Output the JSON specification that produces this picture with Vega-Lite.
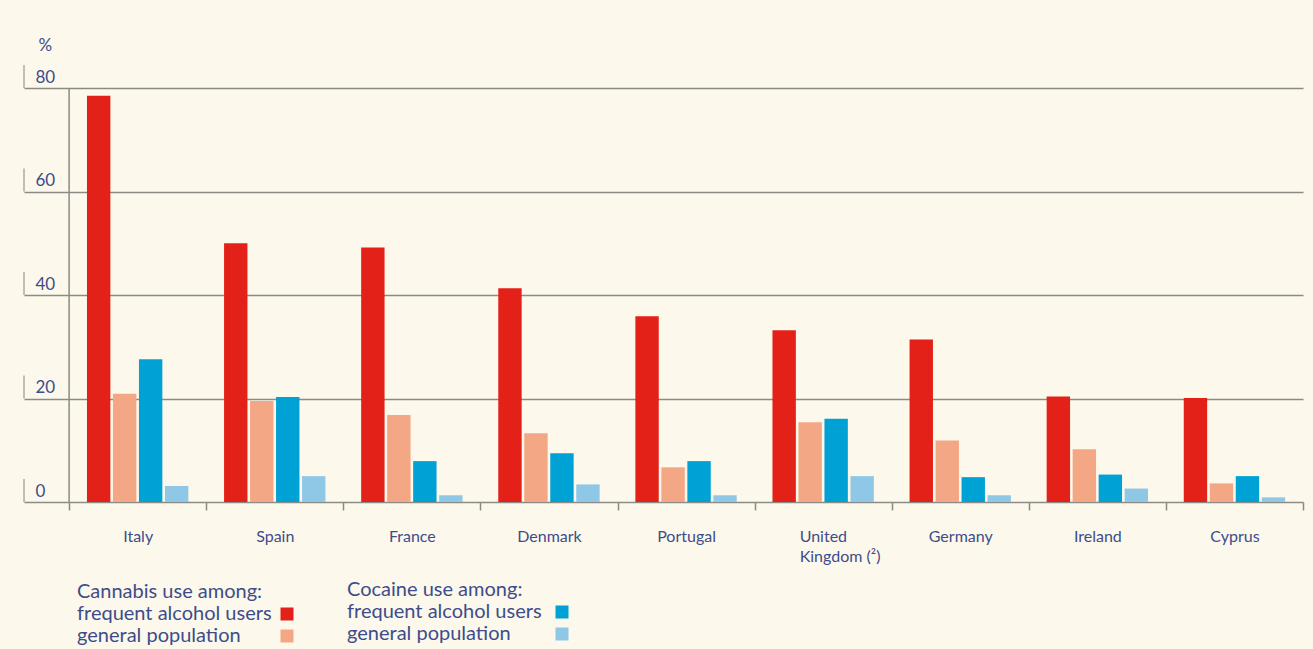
{
  "$schema": "https://vega.github.io/schema/vega-lite/v6.json",
  "autosize": {"type": "none"},
  "width": 1279,
  "height": 414,
  "padding": {"left": 24, "top": 88, "right": 10, "bottom": 147},
  "background": "#fdf8ec",
  "config": {"view": {"stroke": null}, "font": "Lato"},
  "datasets": {
    "bars": [
      {"country": "Italy", "drug": "Cannabis", "population": "frequent alcohol users", "series": "cannabis_frequent", "value": 78.5},
      {"country": "Italy", "drug": "Cannabis", "population": "general population", "series": "cannabis_general", "value": 20.9},
      {"country": "Italy", "drug": "Cocaine", "population": "frequent alcohol users", "series": "cocaine_frequent", "value": 27.6},
      {"country": "Italy", "drug": "Cocaine", "population": "general population", "series": "cocaine_general", "value": 3.1},
      {"country": "Spain", "drug": "Cannabis", "population": "frequent alcohol users", "series": "cannabis_frequent", "value": 50.0},
      {"country": "Spain", "drug": "Cannabis", "population": "general population", "series": "cannabis_general", "value": 19.5},
      {"country": "Spain", "drug": "Cocaine", "population": "frequent alcohol users", "series": "cocaine_frequent", "value": 20.3},
      {"country": "Spain", "drug": "Cocaine", "population": "general population", "series": "cocaine_general", "value": 5.0},
      {"country": "France", "drug": "Cannabis", "population": "frequent alcohol users", "series": "cannabis_frequent", "value": 49.2},
      {"country": "France", "drug": "Cannabis", "population": "general population", "series": "cannabis_general", "value": 16.8},
      {"country": "France", "drug": "Cocaine", "population": "frequent alcohol users", "series": "cocaine_frequent", "value": 7.9},
      {"country": "France", "drug": "Cocaine", "population": "general population", "series": "cocaine_general", "value": 1.3},
      {"country": "Denmark", "drug": "Cannabis", "population": "frequent alcohol users", "series": "cannabis_frequent", "value": 41.3},
      {"country": "Denmark", "drug": "Cannabis", "population": "general population", "series": "cannabis_general", "value": 13.3},
      {"country": "Denmark", "drug": "Cocaine", "population": "frequent alcohol users", "series": "cocaine_frequent", "value": 9.4},
      {"country": "Denmark", "drug": "Cocaine", "population": "general population", "series": "cocaine_general", "value": 3.4},
      {"country": "Portugal", "drug": "Cannabis", "population": "frequent alcohol users", "series": "cannabis_frequent", "value": 35.9},
      {"country": "Portugal", "drug": "Cannabis", "population": "general population", "series": "cannabis_general", "value": 6.7},
      {"country": "Portugal", "drug": "Cocaine", "population": "frequent alcohol users", "series": "cocaine_frequent", "value": 7.9},
      {"country": "Portugal", "drug": "Cocaine", "population": "general population", "series": "cocaine_general", "value": 1.3},
      {"country": "United Kingdom (²)", "drug": "Cannabis", "population": "frequent alcohol users", "series": "cannabis_frequent", "value": 33.2},
      {"country": "United Kingdom (²)", "drug": "Cannabis", "population": "general population", "series": "cannabis_general", "value": 15.4},
      {"country": "United Kingdom (²)", "drug": "Cocaine", "population": "frequent alcohol users", "series": "cocaine_frequent", "value": 16.1},
      {"country": "United Kingdom (²)", "drug": "Cocaine", "population": "general population", "series": "cocaine_general", "value": 5.0},
      {"country": "Germany", "drug": "Cannabis", "population": "frequent alcohol users", "series": "cannabis_frequent", "value": 31.4},
      {"country": "Germany", "drug": "Cannabis", "population": "general population", "series": "cannabis_general", "value": 11.9},
      {"country": "Germany", "drug": "Cocaine", "population": "frequent alcohol users", "series": "cocaine_frequent", "value": 4.8},
      {"country": "Germany", "drug": "Cocaine", "population": "general population", "series": "cocaine_general", "value": 1.3},
      {"country": "Ireland", "drug": "Cannabis", "population": "frequent alcohol users", "series": "cannabis_frequent", "value": 20.4},
      {"country": "Ireland", "drug": "Cannabis", "population": "general population", "series": "cannabis_general", "value": 10.2},
      {"country": "Ireland", "drug": "Cocaine", "population": "frequent alcohol users", "series": "cocaine_frequent", "value": 5.3},
      {"country": "Ireland", "drug": "Cocaine", "population": "general population", "series": "cocaine_general", "value": 2.6},
      {"country": "Cyprus", "drug": "Cannabis", "population": "frequent alcohol users", "series": "cannabis_frequent", "value": 20.1},
      {"country": "Cyprus", "drug": "Cannabis", "population": "general population", "series": "cannabis_general", "value": 3.6},
      {"country": "Cyprus", "drug": "Cocaine", "population": "frequent alcohol users", "series": "cocaine_frequent", "value": 5.0},
      {"country": "Cyprus", "drug": "Cocaine", "population": "general population", "series": "cocaine_general", "value": 0.9}
    ],
    "gridticks": [{"value": 0}, {"value": 20}, {"value": 40}, {"value": 60}, {"value": 80}],
    "firstband": [{"country": "Italy"}]
  },
  "resolve": {"scale": {"x": "independent"}},
  "layer": [
    {
      "layer": [
        {
          "data": {"name": "bars"},
          "transform": [{"filter": "datum.drug == 'Cannabis'"}],
          "mark": {"type": "bar"},
          "encoding": {
            "x": {
              "field": "country",
              "type": "nominal",
              "sort": null,
              "scale": {
                "domain": ["Italy", "Spain", "France", "Denmark", "Portugal", "United Kingdom (²)", "Germany", "Ireland", "Cyprus"],
                "paddingInner": 0,
                "paddingOuter": 0.1645,
                "align": 1
              },
              "axis": {
                "title": null,
                "domain": false,
                "tickBand": "extent",
                "tickSize": 8,
                "tickWidth": 1.5,
                "tickColor": "#8b8a85",
                "labelAngle": 0,
                "labelFontSize": 16,
                "labelColor": "#3c4d8a",
                "labelPadding": 18,
                "labelLineHeight": 20,
                "labelExpr": "datum.value == 'United Kingdom (²)' ? ['United', 'Kingdom (²)'] : datum.value",
                "labelAlign": {"condition": {"test": "datum.value == 'United Kingdom (²)'", "value": "left"}, "value": "center"},
                "labelOffset": {"condition": {"test": "datum.value == 'United Kingdom (²)'", "value": -24}, "value": 0}
              }
            },
            "xOffset": {
              "field": "series",
              "type": "nominal",
              "scale": {"domain": ["cannabis_frequent", "cannabis_general", "cocaine_frequent", "cocaine_general"], "paddingInner": 0.1, "paddingOuter": 0.687}
            },
            "y": {
              "field": "value",
              "type": "quantitative",
              "scale": {"domain": [0, 80], "nice": false},
              "axis": {
                "values": [0, 20, 40, 60, 80],
                "title": "%",
                "titleAngle": 0,
                "titleAlign": "left",
                "titleBaseline": "alphabetic",
                "titleX": 14,
                "titleY": -38,
                "titleFontSize": 17,
                "titleFontWeight": "normal",
                "titleColor": "#3c4d8a",
                "domain": false,
                "ticks": false,
                "grid": true,
                "gridColor": "#8b8a85",
                "gridWidth": 1.5,
                "labelAlign": "left",
                "labelBaseline": "alphabetic",
                "labelPadding": -11,
                "labelOffset": -6,
                "labelFontSize": 17,
                "labelColor": "#3c4d8a",
                "labelFlush": false,
                "labelOverlap": false
              }
            },
            "color": {
              "field": "population",
              "type": "nominal",
              "scale": {"domain": ["frequent alcohol users", "general population"], "range": ["#e42118", "#f4a785"]},
              "legend": {
                "orient": "none",
                "legendX": 53,
                "legendY": 494,
                "title": "Cannabis use among:",
                "titleFontSize": 20,
                "titleFontWeight": "normal",
                "titleColor": "#3c4d8a",
                "titlePadding": 2,
                "titleLimit": 400,
                "labelFontSize": 20,
                "labelColor": "#3c4d8a",
                "labelLimit": 400,
                "labelOffset": -220,
                "symbolType": "square",
                "symbolSize": 169,
                "symbolOffset": 200,
                "symbolStrokeWidth": 0,
                "rowPadding": 2,
                "padding": 0
              }
            }
          }
        },
        {
          "data": {"name": "bars"},
          "transform": [{"filter": "datum.drug == 'Cocaine'"}],
          "mark": {"type": "bar"},
          "encoding": {
            "x": {"field": "country", "type": "nominal", "sort": null},
            "xOffset": {"field": "series", "type": "nominal"},
            "y": {"field": "value", "type": "quantitative"},
            "fill": {
              "field": "series",
              "type": "nominal",
              "scale": {"domain": ["cocaine_frequent", "cocaine_general"], "range": ["#00a2d6", "#8fc8e7"]},
              "legend": {
                "orient": "none",
                "legendX": 323,
                "legendY": 492,
                "title": "Cocaine use among:",
                "labelExpr": "datum.value == 'cocaine_frequent' ? 'frequent alcohol users' : 'general population'",
                "titleFontSize": 20,
                "titleFontWeight": "normal",
                "titleColor": "#3c4d8a",
                "titlePadding": 2,
                "titleLimit": 400,
                "labelFontSize": 20,
                "labelColor": "#3c4d8a",
                "labelLimit": 400,
                "labelOffset": -225,
                "symbolType": "square",
                "symbolSize": 169,
                "symbolOffset": 205,
                "symbolStrokeWidth": 0,
                "rowPadding": 2,
                "padding": 0
              }
            }
          }
        },
        {
          "data": {"name": "firstband"},
          "mark": {"type": "rule", "color": "#8b8a85", "strokeWidth": 1.5},
          "encoding": {
            "x": {"field": "country", "type": "nominal", "sort": null, "bandPosition": 0},
            "y": {"datum": 0},
            "y2": {"datum": 80}
          }
        }
      ]
    },
    {
      "data": {"name": "gridticks"},
      "mark": {"type": "tick", "orient": "vertical", "size": 23, "thickness": 1.5, "color": "#8b8a85", "yOffset": -11.5},
      "encoding": {
        "x": {"datum": 0, "type": "quantitative", "scale": {"domain": [0, 1]}, "axis": null},
        "y": {"field": "value", "type": "quantitative"}
      }
    }
  ]
}
